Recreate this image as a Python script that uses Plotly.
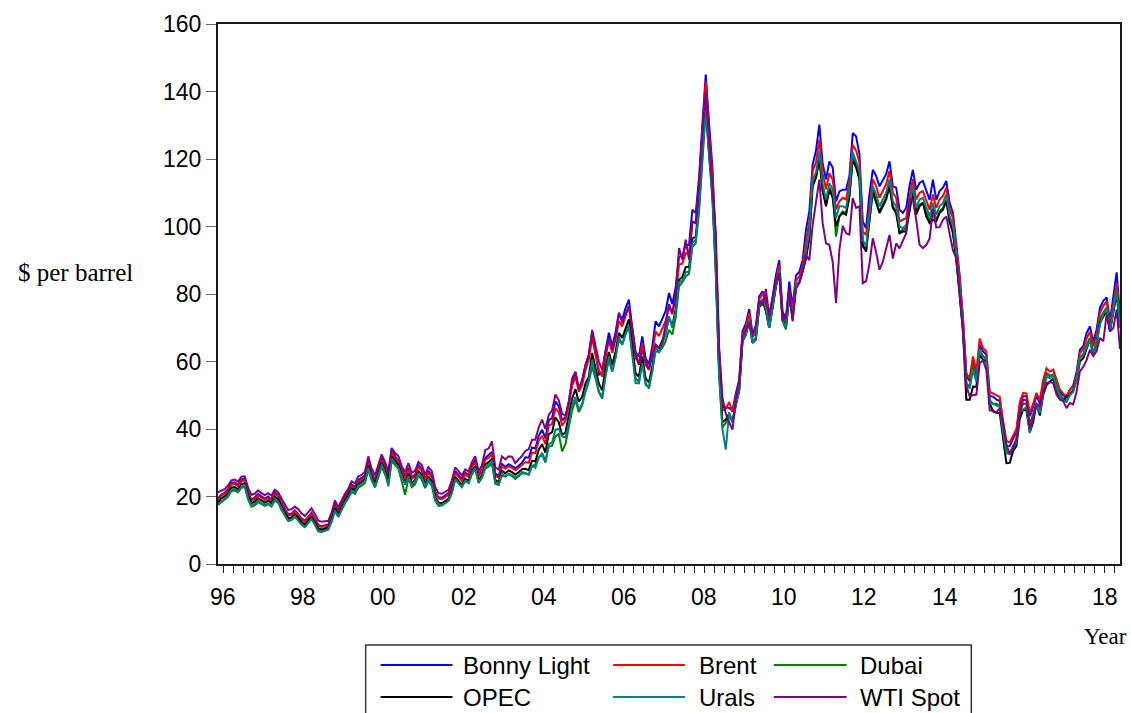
import plotly.graph_objects as go

# Monthly crude oil spot prices ($ per barrel), first observation May 1996
START_YEAR, START_MONTH = 1996, 5

bonny_light = [
    19.4, 20.6, 21.1, 22.2, 24.0, 24.2, 23.4, 25.1,
    25.3, 21.4, 19.1, 19.7, 20.7, 20.0, 19.4, 20.0, 19.1, 21.2, 20.4, 18.2,
    16.3, 14.7, 14.9, 15.9, 14.8, 13.5, 12.8, 14.1, 15.2, 13.4, 11.6, 11.2,
    11.5, 11.7, 14.2, 17.6, 15.8, 17.9, 19.8, 21.5, 23.5, 22.9, 24.9, 25.5,
    26.3, 30.6, 27.0, 25.0, 28.3, 31.4, 28.9, 26.3, 34.4, 31.9, 30.5, 28.0,
    26.0, 28.5, 25.6, 26.5, 29.4, 28.0, 25.2, 27.6, 26.0, 21.4, 19.8, 19.6,
    20.3, 21.0, 23.5, 27.5, 26.4, 25.0, 27.1, 26.3, 29.2, 30.8, 26.5, 28.0,
    31.4, 32.2, 33.2, 26.8, 26.1, 29.6, 28.8, 29.6, 29.1, 28.4, 29.1, 30.0,
    31.6, 31.5, 34.5, 34.2, 38.0, 39.8, 37.2, 42.6, 43.2, 48.2, 46.8, 42.5,
    43.5, 48.0, 54.0, 56.8, 52.0, 54.3, 58.8, 62.0, 68.5, 63.0, 56.1, 56.5,
    63.3, 68.5, 64.5, 68.6, 74.4, 72.4, 75.8, 78.3, 70.0, 62.8, 61.5, 67.4,
    61.0, 59.2, 64.5, 71.9, 70.4, 72.5, 75.0, 80.3, 77.0, 82.0, 91.0, 91.2,
    94.5, 94.5, 105.0, 104.0, 114.5, 130.5, 145.0, 130.5, 117.5, 95.0, 63.5, 46.5,
    46.5, 46.2, 45.5, 50.5, 54.5, 69.0, 71.2, 75.5, 68.2, 69.5, 79.3, 80.8,
    78.2, 72.8, 79.8, 85.5, 90.0, 74.8, 72.5, 83.7, 76.2, 85.5, 86.5, 90.0,
    99.0, 104.5, 118.3, 122.5, 130.2, 118.5, 114.0, 119.3, 117.5, 107.4, 110.4, 110.9,
    110.9, 114.9, 127.7, 126.7, 121.5, 101.5, 99.5, 109.5, 116.8, 115.0, 111.9, 113.9,
    115.5, 119.3, 111.9, 111.5, 105.0, 104.0, 105.5, 112.0, 116.8, 110.9, 112.9, 113.5,
    110.5, 107.9, 113.9, 107.9, 110.5, 111.5, 113.5, 107.0, 104.0, 95.5, 85.5, 72.8,
    55.8, 54.2, 60.8, 56.0, 65.0, 63.0, 62.0, 49.8, 49.6, 48.8, 48.3, 41.3,
    34.9, 35.0, 37.0, 39.2, 47.0, 49.8, 49.6, 43.8, 46.5, 49.8, 47.5, 53.5,
    56.5, 55.8, 56.1, 53.5, 51.0, 50.0, 49.4, 51.5, 53.0, 56.8, 63.5, 64.5,
    68.5, 70.4, 65.8, 69.5, 75.9, 78.0, 79.0, 72.0, 79.5, 86.4, 73.5,
]

brent = [
    19.0, 20.3, 20.8, 21.8, 23.5, 23.8, 23.0, 24.5,
    24.8, 21.0, 18.8, 19.3, 20.3, 19.6, 19.0, 19.6, 18.8, 20.8, 20.0, 17.8,
    16.0, 14.3, 14.6, 15.6, 14.6, 13.2, 12.5, 13.8, 14.9, 13.2, 11.3, 11.0,
    11.2, 11.4, 13.8, 17.2, 15.3, 17.5, 19.4, 21.0, 23.0, 22.4, 24.4, 25.0,
    25.8, 30.0, 26.5, 24.5, 27.8, 30.8, 28.4, 25.8, 32.8, 31.3, 30.0, 27.5,
    25.5, 28.0, 25.2, 26.0, 28.8, 27.5, 24.8, 27.0, 25.6, 21.0, 19.4, 19.2,
    19.8, 20.5, 23.0, 27.0, 25.8, 24.6, 26.5, 25.8, 28.6, 30.2, 26.0, 27.5,
    30.8, 31.5, 32.5, 26.2, 25.6, 29.0, 28.2, 29.0, 28.5, 27.8, 28.5, 29.4,
    30.2, 30.0, 33.0, 32.8, 36.5, 38.0, 35.5, 41.0, 41.5, 46.2, 45.0, 41.0,
    42.5, 47.0, 52.8, 55.5, 51.0, 53.0, 57.5, 60.5, 67.0, 62.0, 57.6, 55.5,
    61.5, 66.5, 62.5, 66.5, 72.0, 70.4, 73.5, 76.3, 68.0, 61.0, 59.5, 65.5,
    59.0, 57.5, 62.5, 68.9, 67.5, 70.0, 72.0, 76.3, 74.0, 79.5, 88.7, 89.0,
    92.1, 92.0, 101.0, 101.5, 111.9, 128.0, 143.0, 128.0, 115.0, 93.0, 62.0, 45.5,
    46.0, 48.0, 45.0, 49.5, 53.5, 68.0, 70.0, 74.4, 67.2, 68.5, 78.3, 80.3,
    77.0, 71.5, 78.5, 84.0, 88.7, 73.4, 71.5, 81.3, 75.0, 84.0, 85.2, 88.5,
    95.5, 101.5, 116.5, 119.0, 125.7, 115.8, 111.0, 115.8, 113.9, 105.0, 107.5, 108.5,
    108.0, 113.5, 124.2, 122.5, 119.0, 98.5, 97.5, 106.0, 114.0, 112.0, 108.5, 110.5,
    112.5, 116.5, 110.0, 108.5, 101.5, 102.0, 102.5, 109.0, 114.0, 108.0, 110.0, 110.5,
    107.5, 105.0, 109.5, 105.5, 108.0, 109.0, 111.5, 105.0, 102.5, 94.0, 84.8, 72.5,
    56.5, 55.0, 61.5, 57.0, 66.8, 64.0, 63.0, 51.0, 50.5, 50.0, 49.5, 42.5,
    36.5, 36.0, 38.0, 40.0, 48.0, 50.7, 50.5, 44.7, 47.5, 50.7, 48.5, 54.5,
    58.0, 57.0, 57.6, 54.5, 51.7, 50.5, 49.7, 51.7, 52.8, 56.0, 62.5, 63.7,
    66.8, 68.9, 64.5, 67.8, 74.4, 76.5, 77.8, 70.9, 77.5, 83.3, 72.5,
]

dubai = [
    17.5, 18.3, 19.0, 19.9, 21.6, 21.8, 21.2, 22.6,
    22.9, 19.2, 17.0, 17.4, 18.3, 17.7, 17.2, 17.7, 17.0, 18.8, 18.2, 16.0,
    14.5, 12.8, 13.1, 14.0, 13.0, 11.8, 11.0, 12.4, 13.5, 11.8, 9.9, 9.6,
    9.9, 10.2, 12.5, 15.8, 14.0, 16.2, 18.0, 19.5, 21.4, 20.8, 22.6, 23.2,
    24.0, 28.0, 24.8, 22.7, 25.8, 28.8, 26.6, 24.0, 30.5, 29.5, 28.2, 24.5,
    20.5, 25.5, 22.8, 23.6, 26.2, 25.0, 22.5, 24.6, 23.2, 18.8, 17.2, 17.3,
    18.0, 18.7, 21.0, 25.0, 24.0, 22.8, 24.6, 24.0, 26.6, 28.2, 24.0, 25.5,
    28.3, 28.8, 30.0, 23.8, 23.4, 26.3, 25.9, 26.6, 26.0, 25.2, 26.0, 26.9,
    26.8, 26.5, 29.0, 29.5, 31.5, 32.9, 30.5, 34.8, 35.0, 37.8, 38.5, 33.4,
    35.5, 40.0, 45.5, 48.5, 45.0, 47.0, 51.0, 54.0, 58.5, 55.0, 51.0, 49.0,
    56.0, 60.5, 57.0, 61.5, 66.5, 65.0, 68.5, 70.5, 62.5, 55.0, 54.0, 60.0,
    53.5, 52.0, 57.5, 63.0, 63.0, 64.0, 66.0, 69.4, 68.0, 73.0, 82.3, 83.5,
    85.2, 86.0, 94.0, 95.0, 104.5, 120.0, 134.6, 121.0, 108.0, 86.0, 56.0, 40.5,
    41.8, 44.0, 42.5, 47.5, 51.0, 66.5, 68.5, 72.0, 66.0, 67.0, 76.5, 78.5,
    75.0, 70.0, 76.5, 82.5, 87.0, 72.0, 69.5, 79.5, 73.0, 82.5, 83.5, 87.0,
    91.5, 97.0, 112.5, 114.5, 120.8, 111.0, 106.5, 111.5, 109.9, 97.0, 103.0, 104.5,
    104.0, 109.0, 120.5, 118.0, 114.5, 94.0, 93.5, 102.0, 110.0, 107.0, 104.5, 106.5,
    108.5, 112.5, 106.0, 104.5, 98.5, 99.0, 99.5, 105.5, 110.5, 104.5, 106.5, 107.0,
    104.0, 101.5, 105.5, 102.0, 104.5, 105.5, 108.0, 101.5, 98.5, 90.5, 81.0, 69.5,
    53.5, 52.5, 58.5, 54.5, 63.5, 61.5, 60.5, 48.5, 47.5, 47.5, 47.0, 39.5,
    33.5, 33.0, 35.0, 37.0, 45.0, 47.5, 47.5, 41.5, 44.5, 47.5, 45.5, 51.5,
    56.5, 55.5, 56.2, 53.0, 50.2, 49.0, 48.2, 50.2, 51.5, 54.8, 61.0, 62.2,
    65.0, 67.0, 62.5, 66.0, 72.5, 74.5, 76.0, 69.5, 75.8, 81.5, 71.0,
]

opec = [
    18.2, 19.5, 20.0, 21.0, 22.6, 22.8, 22.1, 23.6,
    24.0, 20.2, 18.0, 18.5, 19.5, 18.8, 18.2, 18.8, 18.0, 20.0, 19.2, 17.0,
    15.2, 13.5, 13.8, 14.8, 13.8, 12.4, 11.7, 13.0, 14.1, 12.4, 10.5, 10.2,
    10.6, 10.8, 13.2, 16.6, 14.6, 16.9, 18.8, 20.4, 22.4, 21.8, 23.8, 24.3,
    25.1, 29.2, 25.8, 23.7, 27.1, 30.0, 27.6, 25.0, 31.9, 30.5, 29.2, 26.5,
    24.2, 26.8, 24.0, 24.9, 27.6, 26.3, 23.6, 25.8, 24.4, 19.8, 18.2, 18.0,
    18.6, 19.3, 21.8, 25.8, 24.6, 23.4, 25.3, 24.6, 27.4, 29.0, 24.8, 26.3,
    29.5, 30.2, 31.2, 24.9, 24.3, 27.7, 26.9, 27.7, 27.2, 26.5, 27.2, 28.1,
    28.2, 27.8, 30.6, 30.4, 33.8, 35.5, 33.0, 38.5, 39.0, 43.5, 42.0, 38.2,
    39.0, 43.5, 49.0, 51.8, 48.1, 49.5, 53.5, 55.5, 62.5, 58.0, 53.5, 51.5,
    58.0, 62.8, 59.0, 63.0, 68.5, 67.0, 70.0, 72.5, 64.5, 56.5, 55.5, 61.5,
    55.0, 53.8, 58.5, 65.0, 64.0, 66.5, 68.5, 73.0, 70.5, 75.5, 84.2, 85.0,
    88.0, 88.0, 96.5, 97.0, 107.5, 122.5, 137.0, 122.5, 110.0, 88.0, 58.0, 42.0,
    42.8, 44.5, 42.0, 47.0, 51.5, 66.0, 67.8, 72.0, 65.5, 66.5, 76.0, 78.0,
    75.0, 70.0, 76.5, 82.0, 86.5, 72.4, 70.0, 79.5, 72.4, 82.0, 83.5, 86.5,
    90.5, 96.5, 111.9, 114.5, 119.8, 110.5, 106.0, 110.9, 108.5, 100.0, 103.0, 104.0,
    103.5, 109.0, 119.8, 117.5, 114.0, 94.5, 92.5, 101.0, 110.9, 107.5, 104.0, 106.0,
    108.0, 112.0, 105.5, 104.0, 98.0, 98.5, 98.5, 104.5, 110.4, 103.5, 106.0, 107.0,
    103.0, 101.0, 102.0, 101.5, 104.0, 105.0, 107.5, 101.5, 98.0, 90.5, 80.5, 69.0,
    48.7, 48.7, 52.6, 52.5, 62.0, 60.5, 60.0, 47.7, 45.2, 44.8, 44.7, 37.5,
    29.9, 30.0, 33.5, 35.0, 43.0, 45.7, 45.5, 39.0, 42.0, 47.5, 44.0, 50.0,
    53.0, 54.0, 55.0, 51.0, 49.5, 48.5, 49.7, 50.0, 51.5, 54.5, 60.0, 61.0,
    64.0, 66.5, 62.0, 65.0, 71.5, 73.5, 75.0, 69.0, 75.0, 80.0, 70.0,
]

urals = [
    17.6, 18.5, 19.3, 20.3, 22.0, 22.3, 21.5, 23.0,
    23.3, 19.4, 17.3, 17.8, 18.8, 18.0, 17.5, 18.0, 17.2, 19.3, 18.4, 16.2,
    14.5, 12.8, 13.0, 14.1, 13.0, 11.6, 10.9, 12.2, 13.3, 11.6, 9.7, 9.5,
    10.0, 10.3, 12.6, 15.9, 14.0, 16.3, 18.2, 19.8, 21.8, 21.2, 23.2, 23.8,
    24.5, 28.5, 25.2, 23.0, 26.5, 29.5, 27.0, 23.0, 31.2, 30.0, 28.5, 25.8,
    23.5, 26.0, 23.2, 24.3, 27.0, 25.8, 23.0, 25.1, 23.8, 19.3, 17.7, 17.5,
    18.0, 18.8, 21.2, 25.2, 24.0, 22.8, 24.7, 24.0, 26.8, 28.4, 24.2, 25.7,
    28.8, 29.5, 30.4, 24.2, 23.5, 26.8, 26.0, 26.8, 26.4, 25.7, 26.3, 27.2,
    27.0, 26.5, 29.2, 28.5, 31.5, 32.5, 30.0, 35.5, 36.0, 39.8, 40.0, 37.8,
    37.5, 41.5, 47.0, 49.5, 45.7, 47.5, 51.5, 54.5, 60.5, 56.0, 51.1, 49.5,
    56.0, 61.5, 57.0, 61.0, 67.4, 65.0, 68.0, 70.4, 62.0, 53.6, 53.5, 59.5,
    53.1, 52.5, 57.0, 64.5, 62.5, 65.0, 68.0, 73.4, 70.0, 74.5, 83.5, 84.0,
    86.5, 86.5, 95.1, 96.0, 105.5, 121.0, 134.6, 121.5, 109.0, 87.0, 56.0, 40.0,
    33.9, 45.0, 42.0, 47.0, 51.5, 66.0, 68.0, 72.5, 65.5, 67.0, 76.5, 78.5,
    75.5, 70.0, 77.0, 82.5, 87.2, 72.0, 70.0, 80.0, 73.5, 82.5, 83.8, 87.0,
    92.5, 98.5, 113.9, 116.0, 122.3, 112.5, 108.0, 112.8, 111.0, 102.5, 106.0, 106.0,
    105.5, 111.0, 122.0, 119.5, 116.5, 96.0, 94.1, 103.0, 112.0, 109.5, 106.0, 108.0,
    110.0, 114.0, 107.5, 106.0, 100.0, 99.5, 100.5, 106.5, 112.0, 105.5, 108.0, 108.5,
    105.5, 103.0, 107.0, 103.5, 106.0, 107.0, 109.5, 103.0, 100.5, 92.0, 82.5, 70.5,
    53.5, 52.0, 57.6, 54.0, 63.5, 61.5, 61.0, 48.0, 47.5, 47.0, 46.5, 39.0,
    32.9, 32.5, 34.4, 36.0, 45.0, 45.7, 46.5, 38.8, 44.0, 47.5, 44.7, 50.5,
    55.5, 55.0, 55.8, 52.0, 49.7, 48.5, 48.0, 50.0, 51.0, 54.5, 61.0, 62.0,
    64.5, 66.5, 62.0, 65.5, 70.9, 74.0, 75.5, 69.0, 75.0, 81.0, 69.9,
]

wti_spot = [
    21.2, 21.8, 22.2, 23.2, 24.8, 25.0, 24.4, 25.9,
    26.0, 22.6, 20.5, 20.8, 21.8, 21.0, 20.4, 21.0, 20.3, 22.0, 21.3, 19.4,
    17.6, 16.0, 16.2, 17.0, 16.2, 15.0, 14.2, 15.4, 16.5, 14.8, 12.9, 12.5,
    12.6, 12.8, 15.2, 18.8, 16.8, 19.0, 20.8, 22.3, 24.5, 23.9, 26.0, 26.4,
    27.4, 31.9, 28.2, 26.3, 29.4, 32.5, 30.2, 27.6, 34.2, 32.9, 32.0, 29.0,
    27.2, 29.9, 27.0, 27.7, 30.2, 29.3, 26.5, 28.7, 27.5, 22.8, 21.0, 20.8,
    21.4, 22.0, 24.8, 28.6, 27.5, 26.2, 28.0, 27.4, 30.2, 31.9, 27.5, 29.3,
    33.8, 34.2, 36.3, 28.6, 28.0, 31.9, 31.0, 31.9, 31.8, 29.9, 31.0, 32.0,
    33.5, 34.0, 36.8, 36.8, 40.5, 42.8, 40.0, 44.2, 45.5, 50.2, 48.5, 44.5,
    44.0, 48.0, 55.0, 57.0, 51.8, 54.5, 59.0, 62.0, 69.4, 65.0, 60.0, 57.5,
    63.0, 67.0, 63.5, 67.5, 74.4, 71.5, 74.0, 76.5, 70.0, 62.5, 59.0, 63.5,
    60.0, 57.8, 61.8, 65.0, 64.0, 65.5, 71.0, 77.0, 74.5, 80.0, 93.6, 90.2,
    96.1, 90.2, 101.5, 101.0, 112.5, 128.0, 140.0, 125.0, 112.0, 98.5, 64.0, 49.3,
    44.5, 42.0, 39.8, 48.5, 53.5, 67.5, 69.3, 71.6, 68.1, 70.8, 78.1, 76.6,
    81.5, 73.5, 78.5, 84.0, 86.2, 72.5, 72.9, 81.3, 71.9, 81.6, 83.2, 86.8,
    91.6, 90.0, 100.5, 107.9, 113.9, 101.0, 95.0, 94.6, 89.5, 77.3, 93.1, 100.2,
    98.0, 97.6, 108.4, 105.5, 106.0, 83.2, 83.8, 88.9, 96.5, 92.4, 87.2, 89.5,
    93.1, 97.5, 90.5, 95.0, 93.5, 95.5, 98.0, 107.9, 108.0, 102.0, 94.6, 93.6,
    94.5, 96.4, 105.0, 99.7, 99.8, 102.0, 103.0, 97.9, 92.9, 90.7, 78.8, 69.0,
    52.7, 49.7, 50.0, 50.2, 59.5, 60.3, 57.5, 45.5, 45.4, 45.0, 46.1, 41.8,
    35.5, 32.5, 34.4, 36.9, 44.8, 48.7, 48.5, 40.0, 43.2, 47.5, 46.7, 51.1,
    53.6, 53.9, 53.6, 50.2, 48.7, 48.3, 46.2, 47.7, 47.3, 51.0, 57.1, 58.4,
    60.4, 63.5, 61.6, 63.0, 67.0, 66.0, 73.9, 68.9, 69.9, 75.4, 63.7,
]

SERIES = [
    ("Bonny Light", bonny_light, "#0000ff"),
    ("Brent", brent, "#ff0000"),
    ("Dubai", dubai, "#008000"),
    ("OPEC", opec, "#000000"),
    ("Urals", urals, "#008080"),
    ("WTI Spot", wti_spot, "#800080"),
]

YEAR_LABELS = ["96", "98", "00", "02", "04", "06", "08", "10", "12", "14", "16", "18"]


def month_axis(n):
    """Decimal-year position of each monthly observation."""
    return [START_YEAR + (START_MONTH - 1 + i) / 12 for i in range(n)]


n_obs = len(brent)
x_all = month_axis(n_obs)
x_min, x_max = x_all[0], x_all[-1]

# Figure geometry (pixels)
W, H = 1131, 713
L, R, T, B = 218, 9, 24, 149
PW, PH = W - L - R, H - T - B


def px_x(px):
    return (px - L) / PW


def px_y(py):
    return (H - B - py) / PH


SANS = "Liberation Sans, Arial, sans-serif"
SERIF = "Liberation Serif, Times New Roman, serif"

fig = go.Figure()
for name, vals, color in SERIES:
    fig.add_trace(go.Scatter(
        x=month_axis(len(vals)), y=vals, mode="lines", name=name,
        line=dict(color=color, width=2), showlegend=False,
    ))

# Year boundaries fall half a month before each January observation
year_ticks = [yr - 1 / 24 for yr in range(START_YEAR + 1, 2019)]
quarter_ticks = [START_YEAR + 1 - 1 / 24 + 0.25 * q for q in range(-2, 88)]
quarter_ticks = [q for q in quarter_ticks if x_min <= q <= x_max]

annotations = []
for i, lab in enumerate(YEAR_LABELS):
    yr = START_YEAR + 2 * i
    annotations.append(dict(
        x=yr + 11 / 24, y=px_y(597), xref="x", yref="paper", text=lab,
        showarrow=False, xanchor="center", yanchor="middle",
        font=dict(family=SANS, size=23, color="black"),
    ))

annotations.append(dict(
    x=px_x(75), y=px_y(272), xref="paper", yref="paper", text="$ per barrel",
    showarrow=False, xanchor="center", yanchor="middle",
    font=dict(family=SERIF, size=25, color="black"),
))
annotations.append(dict(
    x=px_x(1131), y=px_y(636), xref="paper", yref="paper", text="Year",
    showarrow=False, xanchor="right", yanchor="middle",
    font=dict(family=SERIF, size=23, color="black"),
))

# Legend box drawn below the plot
shapes = [dict(
    type="rect", xref="paper", yref="paper",
    x0=px_x(366), x1=px_x(973), y0=px_y(730), y1=px_y(645),
    line=dict(color="#333333", width=1.5), fillcolor="rgba(0,0,0,0)",
)]
legend_cols = [(381, 453, 462), (614, 686, 698), (775, 848, 859)]
legend_rows = [665, 697]
for idx, (name, _, color) in enumerate(SERIES):
    row, col = divmod(idx, 3)
    x0, x1, xt = legend_cols[col]
    yy = px_y(legend_rows[row])
    shapes.append(dict(
        type="line", xref="paper", yref="paper",
        x0=px_x(x0), x1=px_x(x1), y0=yy, y1=yy,
        line=dict(color=color, width=2),
    ))
    annotations.append(dict(
        x=px_x(xt), y=yy, xref="paper", yref="paper", text=name,
        showarrow=False, xanchor="left", yanchor="middle",
        font=dict(family=SANS, size=24, color="black"),
    ))

fig.update_layout(
    width=W, height=H,
    margin=dict(l=L, r=R, t=T, b=B, pad=0),
    paper_bgcolor="white", plot_bgcolor="white",
    font=dict(family=SANS, size=23, color="black"),
    showlegend=False,
    xaxis=dict(
        range=[x_min, x_max],
        tickmode="array", tickvals=year_ticks, ticktext=[""] * len(year_ticks),
        ticks="outside", ticklen=11, tickwidth=1.5, tickcolor="#222222",
        showline=True, linecolor="#1a1a1a", linewidth=2, mirror=True,
        showgrid=False, zeroline=False,
        minor=dict(
            tickmode="array", tickvals=quarter_ticks,
            ticks="outside", ticklen=7, tickwidth=1.2, tickcolor="#222222",
            showgrid=False,
        ),
    ),
    yaxis=dict(
        range=[0, 160],
        tickmode="array", tickvals=list(range(0, 161, 20)),
        ticks="outside", ticklen=10, tickwidth=1.2, tickcolor="#666666",
        tickfont=dict(family=SANS, size=23, color="black"),
        showline=True, linecolor="#1a1a1a", linewidth=2, mirror=True,
        showgrid=False, zeroline=False,
    ),
    annotations=annotations,
    shapes=shapes,
)

fig.write_html("out.html")
